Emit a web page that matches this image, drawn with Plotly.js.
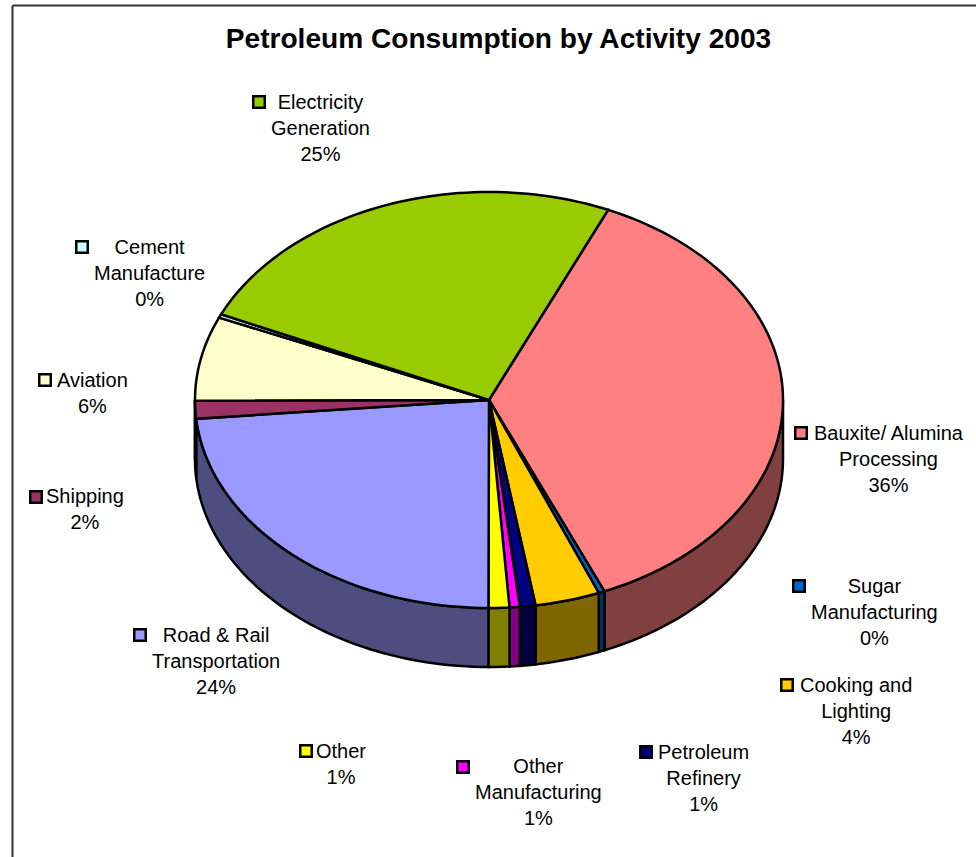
<!DOCTYPE html>
<html><head><meta charset="utf-8">
<script src="https://cdn.plot.ly/plotly-3.0.1.min.js"></script>
<style>html,body{margin:0;padding:0;background:#fff}#chart{width:976px;height:857px}</style>
</head><body><div id="chart"></div>
<script>
// Data (clockwise from the Bauxite slice)
const categories = ['Bauxite/ Alumina<br>Processing','Sugar<br>Manufacturing','Cooking and<br>Lighting','Petroleum<br>Refinery','Other<br>Manufacturing','Other','Road & Rail<br>Transportation','Shipping','Aviation','Cement<br>Manufacture','Electricity<br>Generation'];
const shares = [36.94,0.33,3.56,0.86,0.56,1.14,23.53,1.39,6.53,0.28,24.88];
const percentText = ['36%','0%','4%','1%','1%','1%','24%','2%','6%','0%','25%'];
// Styles and layout
const topColors = ['#FF8080','#0066CC','#FFCC00','#000080','#FF00FF','#FFFF00','#9999FF','#993366','#FFFFCC','#CCFFFF','#99CC00'];
const wallColors = ['#804040','#003366','#806600','#000040','#800080','#808000','#4D4D80','#4D1A33','#808066','#668080','#4D6600'];
const labelCenterX = [889,874,856,703,538,341,216,85,92,149,320];
const labelTopY = [420.7,573.7,672.7,739.7,753.7,738.7,622.7,483.7,367.7,234.7,89.7];
const keyX = [801,799,787,646,463,306,140,36,45,82,259];
const keyY = [433,586,685,752,767,751,635,497,380,247,102];
const startAngle = 23.9, cx = 489, cy = 400, rx = 294, ry = 208, depth = 59;

const total = shares.reduce((a,b)=>a+b,0);
const px = t => cx + rx*Math.sin(t*Math.PI/180);
const py = t => cy - ry*Math.cos(t*Math.PI/180);
const arc = (a,b) => { const n=Math.max(2,Math.ceil((b-a)/1.5)); const r=[]; for(let i=0;i<=n;i++) r.push(a+(b-a)*i/n); return r; };

const walls=[], tops=[];
let ang = startAngle;
categories.forEach((name,i)=>{
  const a=ang, b=ang+shares[i]/total*360; ang=b;
  const plain = name.replace('<br>',' ');
  const wa=Math.max(a,90), wb=Math.min(b,270);
  if(wb>wa){
    const t=arc(wa,wb);
    const x=t.map(px).concat(t.slice().reverse().map(px)); x.push(x[0]);
    const y=t.map(py).concat(t.slice().reverse().map(v=>py(v)+depth)); y.push(y[0]);
    walls.push({type:'scatter',mode:'lines',x,y,fill:'toself',fillcolor:wallColors[i],line:{color:'#000',width:2.5,simplify:false},name:plain+' side',showlegend:false,hoverinfo:'skip'});
  }
  const t=arc(a,b);
  const x=[cx].concat(t.map(px),[cx]);
  const y=[cy].concat(t.map(py),[cy]);
  tops.push({type:'scatter',mode:'lines',x,y,fill:'toself',fillcolor:topColors[i],line:{color:'#000',width:2.5,simplify:false},name:plain,showlegend:false,hoverinfo:'skip'});
});
const keys={type:'scatter',mode:'markers',x:keyX,y:keyY,showlegend:false,hoverinfo:'skip',
  marker:{symbol:'square',size:11.5,color:topColors,line:{color:'#000',width:2.5}}};
const annotations=categories.map((c,i)=>({x:labelCenterX[i],y:labelTopY[i],xref:'x',yref:'y',xanchor:'center',yanchor:'top',
  text:c+'<br>'+percentText[i],showarrow:false,align:'center',borderpad:0,font:{family:'"Liberation Sans",Arial,sans-serif',size:20,color:'#000'}}));
const layout={
  width:976,height:857,margin:{l:0,r:0,t:0,b:0},paper_bgcolor:'#fff',plot_bgcolor:'#fff',showlegend:false,
  title:{text:'<b>Petroleum Consumption by Activity 2003</b>',x:498.5/976,xanchor:'center',y:1-38/857,yanchor:'middle',font:{family:'"Liberation Sans",Arial,sans-serif',size:28.1,color:'#000'}},
  xaxis:{range:[0,976],visible:false,fixedrange:true},
  yaxis:{range:[857,0],visible:false,fixedrange:true},
  annotations,
  shapes:[{type:'line',xref:'x',yref:'y',x0:12.5,x1:12.5,y0:5.5,y1:857,line:{color:'#333',width:2}},
          {type:'line',xref:'x',yref:'y',x0:12.5,x1:976,y0:5.5,y1:5.5,line:{color:'#333',width:2}}]
};
Plotly.newPlot('chart',walls.concat(tops,[keys]),layout,{displayModeBar:false,staticPlot:true});
</script></body></html>
